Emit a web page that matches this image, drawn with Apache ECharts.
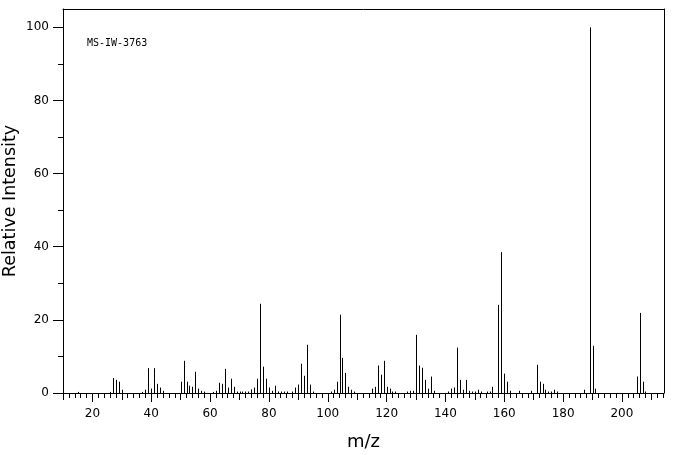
<!DOCTYPE html>
<html>
<head>
<meta charset="utf-8">
<script src="https://cdn.jsdelivr.net/npm/echarts@6/dist/echarts.min.js"></script>
<style>html,body{margin:0;padding:0;background:#fff;}#chart{width:676px;height:455px;}</style>
</head>
<body>
<div id="chart"></div>
<script>
const mz = [15,26,27,28,29,30,37,38,39,40,41,42,43,44,50,51,52,53,54,55,56,57,58,61,62,63,64,65,66,67,68,69,70,71,72,73,74,75,76,77,78,79,80,81,82,83,84,85,86,88,89,90,91,92,93,94,95,101,102,103,104,105,106,107,108,109,115,116,117,118,119,120,121,122,123,127,128,129,130,131,132,133,134,135,136,141,142,143,144,145,146,147,148,149,150,151,152,154,155,156,158,159,160,161,162,165,169,171,172,173,174,175,176,177,178,187,189,190,191,205,206,207,208];
const intensity = [0.3,0.3,4.1,3.6,3.1,0.9,0.3,0.9,6.8,1.2,6.8,2.5,1.5,0.6,3.1,8.8,3.1,2.0,1.7,5.8,1.2,0.6,0.4,0.3,0.6,2.8,2.5,6.6,1.5,3.9,1.7,0.4,0.4,0.4,0.4,0.4,1.0,1.5,3.9,24.4,7.2,3.9,1.5,0.6,2.0,0.4,0.4,0.4,0.4,0.4,1.5,2.3,8.0,4.7,13.2,2.3,0.4,0.4,0.9,3.1,21.4,9.6,5.5,1.7,0.9,0.4,1.2,1.7,7.5,5.0,8.8,1.7,1.2,0.4,0.4,0.4,0.6,0.6,15.9,7.5,6.9,3.6,1.2,4.5,0.6,0.4,1.2,1.5,12.4,3.6,0.9,3.6,0.6,0.4,0.4,0.9,0.4,0.4,0.4,1.7,24.1,38.5,5.3,3.1,0.6,0.6,0.6,7.7,3.1,2.5,0.9,0.4,0.4,0.9,0.4,0.9,100,12.9,1.2,4.5,21.9,3.1,0.4];
const xMajorTicks = [20,40,60,80,100,120,140,160,180,200];
const xMidTicks = [10,30,50,70,90,110,130,150,170,190,210];
const xMinorTicks = [12,14,16,18,22,24,26,28,32,34,36,38,42,44,46,48,52,54,56,58,62,64,66,68,72,74,76,78,82,84,86,88,92,94,96,98,102,104,106,108,112,114,116,118,122,124,126,128,132,134,136,138,142,144,146,148,152,154,156,158,162,164,166,168,172,174,176,178,182,184,186,188,192,194,196,198,202,204,206,208,212,214];
const yMajorTicks = [0,20,40,60,80,100];
const yMinorTicks = [10,30,50,70,90];
const xMin = 10, xMax = 214.3, yMin = 0, yMax = 105;
const sampleId = 'MS-IW-3763';

const chart = echarts.init(document.getElementById('chart'), null, {renderer: 'canvas'});
const font = 'DejaVu Sans';
const black = '#000';
function xAx(extra) {
  return Object.assign({
    type: 'value', min: xMin, max: xMax, position: 'bottom', offset: 0,
    axisLine: {show: false}, splitLine: {show: false},
    axisLabel: {show: false}, axisTick: {show: false}
  }, extra);
}
function yAx(extra) {
  return Object.assign({
    type: 'value', min: yMin, max: yMax, position: 'left', offset: 0,
    axisLine: {show: false}, splitLine: {show: false},
    axisLabel: {show: false}, axisTick: {show: false}
  }, extra);
}
chart.setOption({
  animation: false,
  backgroundColor: '#fff',
  title: {
    text: sampleId, left: 82, top: 33,
    textStyle: {fontFamily: 'DejaVu Sans Mono', fontSize: 10, fontWeight: 'normal', color: black}
  },
  grid: {left: 63, right: 12, top: 9, bottom: 62, containLabel: false, outerBoundsMode: 'none'},
  xAxis: [
    xAx({
      axisLine: {show: true, onZero: false, lineStyle: {color: black, width: 1}},
      axisTick: {show: true, length: 9, customValues: xMajorTicks, lineStyle: {color: black}},
      axisLabel: {show: true, customValues: xMajorTicks, margin: 15, color: black, fontFamily: font, fontSize: 12},
      name: 'm/z', nameLocation: 'middle', nameGap: 40, nameMoveOverlap: false,
      nameTextStyle: {fontFamily: font, fontSize: 18, color: black}
    }),
    xAx({axisTick: {show: true, length: 7, customValues: xMidTicks, lineStyle: {color: black}}}),
    xAx({axisTick: {show: true, length: 5, customValues: xMinorTicks, lineStyle: {color: black}}}),
    xAx({position: 'top', axisLine: {show: true, onZero: false, lineStyle: {color: black, width: 1}}})
  ],
  yAxis: [
    yAx({
      axisLine: {show: true, onZero: false, lineStyle: {color: black, width: 1}},
      axisTick: {show: true, length: 10, customValues: yMajorTicks, lineStyle: {color: black}},
      axisLabel: {show: true, customValues: yMajorTicks, margin: 14, color: black, fontFamily: font, fontSize: 12},
      name: 'Relative Intensity', nameLocation: 'middle', nameGap: 44, nameRotate: 90, nameMoveOverlap: false,
      nameTextStyle: {fontFamily: font, fontSize: 17.5, color: black}
    }),
    yAx({axisTick: {show: true, length: 5, customValues: yMinorTicks, lineStyle: {color: black}}}),
    yAx({position: 'right', axisLine: {show: true, onZero: false, lineStyle: {color: black, width: 1}}})
  ],
  series: [{
    type: 'custom',
    xAxisIndex: 0, yAxisIndex: 0,
    data: mz.map((m, i) => [m, intensity[i]]),
    renderItem: function (params, api) {
      const x = api.value(0), y = api.value(1);
      const top = api.coord([x, y]);
      const base = api.coord([x, 0]);
      const px = Math.round(top[0]) + 0.5;
      return {
        type: 'line',
        shape: {x1: px, y1: base[1], x2: px, y2: top[1]},
        style: {stroke: black, lineWidth: 1}
      };
    }
  }]
});
</script>
</body>
</html>
